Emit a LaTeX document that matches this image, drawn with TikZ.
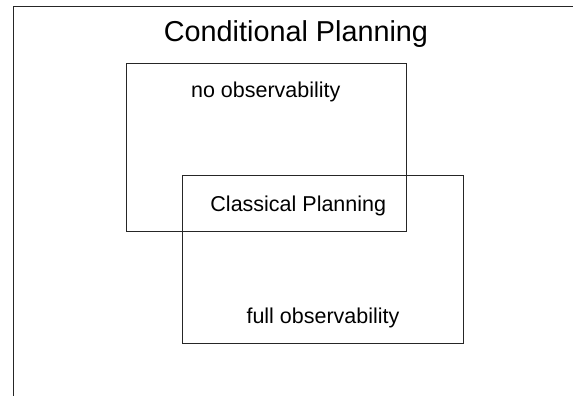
\documentclass[tikz,border=0pt]{standalone}
\usepackage{fontspec}
\setmainfont{Liberation Sans}
\begin{document}
\begin{tikzpicture}[x=1pt,y=-1pt,
  frameline/.style={draw=black!85,line width=0.9pt},
  region/.style={frameline,rectangle,inner sep=0pt,fill=none},
  label/.style={anchor=base,inner sep=0pt,font=\fontsize{21.5}{24}\selectfont},
  heading/.style={anchor=base,inner sep=0pt,font=\fontsize{28.8}{32}\selectfont}]
\useasboundingbox (0,0) rectangle (573,396);
% outer frame, cut by the page edges
\coordinate (frameTR) at (573,6.7);
\coordinate (frameTL) at (13.5,6.7);
\coordinate (frameBL) at (13.5,396);
\draw[frameline] (frameTR) -- (frameTL) -- (frameBL);
% the two overlapping regions
\node[region,minimum width=280.7pt,minimum height=168.7pt] (noobs) at (266.35,147.35) {};
\node[region,minimum width=281pt,minimum height=167.6pt] (fullobs) at (322.5,259.5) {};
% texts
\node[heading] (title) at (296,41.5) {Conditional Planning};
\node[label] (nolabel) at (265.8,97.7) {no observability};
\node[label] (classical) at (298.3,211.7) {Classical Planning};
\node[label] (fulllabel) at (323,323.3) {full observability};
\end{tikzpicture}
\end{document}
